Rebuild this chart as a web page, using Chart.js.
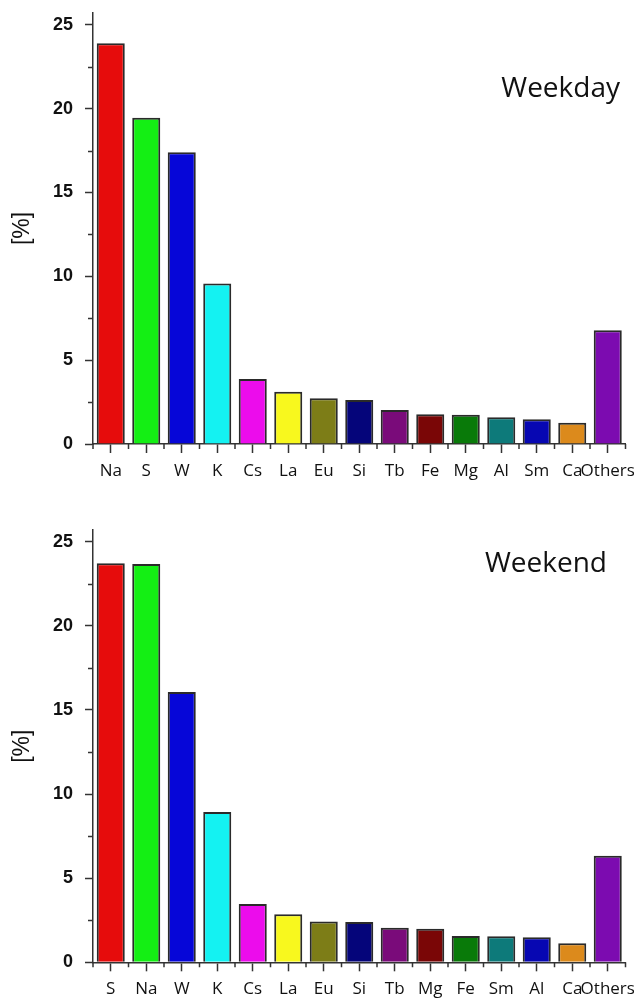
<!DOCTYPE html>
<html>
<head>
<meta charset="utf-8">
<script src="https://cdn.jsdelivr.net/npm/chart.js@4"></script>
<style>
  body { margin: 0; background: #fff; }
  #wrap { position: relative; width: 634px; height: 1000px; overflow: hidden; }
  canvas { position: absolute; left: 0; }
  #c1 { top: 0; }
  #c2 { top: 500px; }
</style>
</head>
<body>
<div id="wrap">
  <canvas id="c1" width="634" height="490"></canvas>
  <canvas id="c2" width="634" height="500"></canvas>
</div>
<script>
// weekday elements, sorted by share
const weekdayLabels = ['Na', 'S', 'W', 'K', 'Cs', 'La', 'Eu', 'Si', 'Tb', 'Fe', 'Mg', 'Al', 'Sm', 'Ca', 'Others'];
const weekdayValues = [23.9, 19.45, 17.4, 9.57, 3.88, 3.12, 2.73, 2.63, 2.03, 1.77, 1.75, 1.59, 1.47, 1.27, 6.78];

// weekend elements
const weekendLabels = ['S', 'Na', 'W', 'K', 'Cs', 'La', 'Eu', 'Si', 'Tb', 'Mg', 'Fe', 'Sm', 'Al', 'Ca', 'Others'];
const weekendValues = [23.72, 23.68, 16.07, 8.94, 3.46, 2.86, 2.42, 2.4, 2.06, 2.0, 1.57, 1.55, 1.49, 1.13, 6.34];

const yTicks = [0, 5, 10, 15, 20, 25];
const yMinorTicks = [2.5, 7.5, 12.5, 17.5, 22.5];

// colours go by bar position, same in both panels
const barColors = ['#e60c0c', '#14ef14', '#0606d8', '#14f2f2', '#ec0cec', '#f8f81e', '#7d7d17', '#05057a',
                   '#7a0b7a', '#7a0606', '#097a09', '#0d7a7a', '#0707b2', '#dc8a1c', '#7c0bb0'];

const axisColor = '#333';

// little ticks between the big ones + the panel name
const extras = {
  id: 'extras',
  afterDraw(chart, args, opts) {
    const ctx = chart.ctx;
    const x = chart.scales.x, y = chart.scales.y;
    const area = chart.chartArea;
    ctx.save();
    ctx.strokeStyle = axisColor;
    ctx.lineWidth = 1.5;
    ctx.beginPath();
    yMinorTicks.forEach(v => {
      const py = Math.round(y.getPixelForValue(v)) + 0.5;
      ctx.moveTo(area.left - 5, py);
      ctx.lineTo(area.left, py);
    });
    const n = chart.data.labels.length;
    for (let i = 0; i <= n; i++) {
      let px;
      if (i === 0) px = area.left;
      else if (i === n) px = area.right;
      else px = (x.getPixelForValue(i - 1) + x.getPixelForValue(i)) / 2;
      ctx.moveTo(px, area.bottom);
      ctx.lineTo(px, area.bottom + 5);
    }
    ctx.stroke();

    ctx.fillStyle = '#111';
    ctx.font = '28px "Open Sans"';
    ctx.textAlign = 'right';
    ctx.textBaseline = 'alphabetic';
    ctx.fillText(opts.text, opts.x, opts.y);
    ctx.restore();
  }
};

function makeChart(id, labels, values, name, top, xHeight, textY, textX) {
  return new Chart(document.getElementById(id), {
    type: 'bar',
    data: {
      labels: labels,
      datasets: [{
        data: values,
        backgroundColor: barColors,
        borderColor: '#2a2a2a',
        borderWidth: 2,
        barPercentage: 0.79,
        categoryPercentage: 1.0
      }]
    },
    options: {
      responsive: false,
      animation: false,
      layout: { padding: { left: 0, right: 8.5, top: top, bottom: 0 } },
      plugins: {
        legend: { display: false },
        tooltip: { enabled: false },
        extras: { text: name, x: textX, y: textY }
      },
      scales: {
        x: {
          afterFit: s => { s.height = xHeight; s.paddingLeft = 0; s.paddingRight = 0; },
          grid: { display: true, drawOnChartArea: false, offset: false, tickLength: 9, tickColor: axisColor, tickWidth: 1.5 },
          border: { color: axisColor, width: 1.5 },
          ticks: { color: '#111', font: { family: 'Open Sans', size: 17 }, padding: 8, maxRotation: 0, autoSkip: false }
        },
        y: {
          min: 0,
          max: 25.7,
          afterFit: s => { s.width = 93; s.paddingTop = 0; s.paddingBottom = 0; },
          afterBuildTicks: s => { s.ticks = yTicks.map(v => ({ value: v })); },
          grid: { display: true, drawOnChartArea: false, tickLength: 8, tickColor: axisColor, tickWidth: 1.5 },
          border: { color: axisColor, width: 1.5 },
          ticks: { color: '#111', font: { family: 'Liberation Sans', size: 18, weight: 'bold' }, padding: 12 },
          title: {
            display: true,
            text: '[%]',
            color: '#111',
            font: { family: 'Liberation Sans', size: 23 },
            padding: { top: 9, bottom: 0 }
          }
        }
      }
    },
    plugins: [extras]
  });
}

makeChart('c1', weekdayLabels, weekdayValues, 'Weekday', 13, 46, 97, 620);
makeChart('c2', weekendLabels, weekendValues, 'Weekend', 30, 37.7, 72, 607);
</script>
</body>
</html>
